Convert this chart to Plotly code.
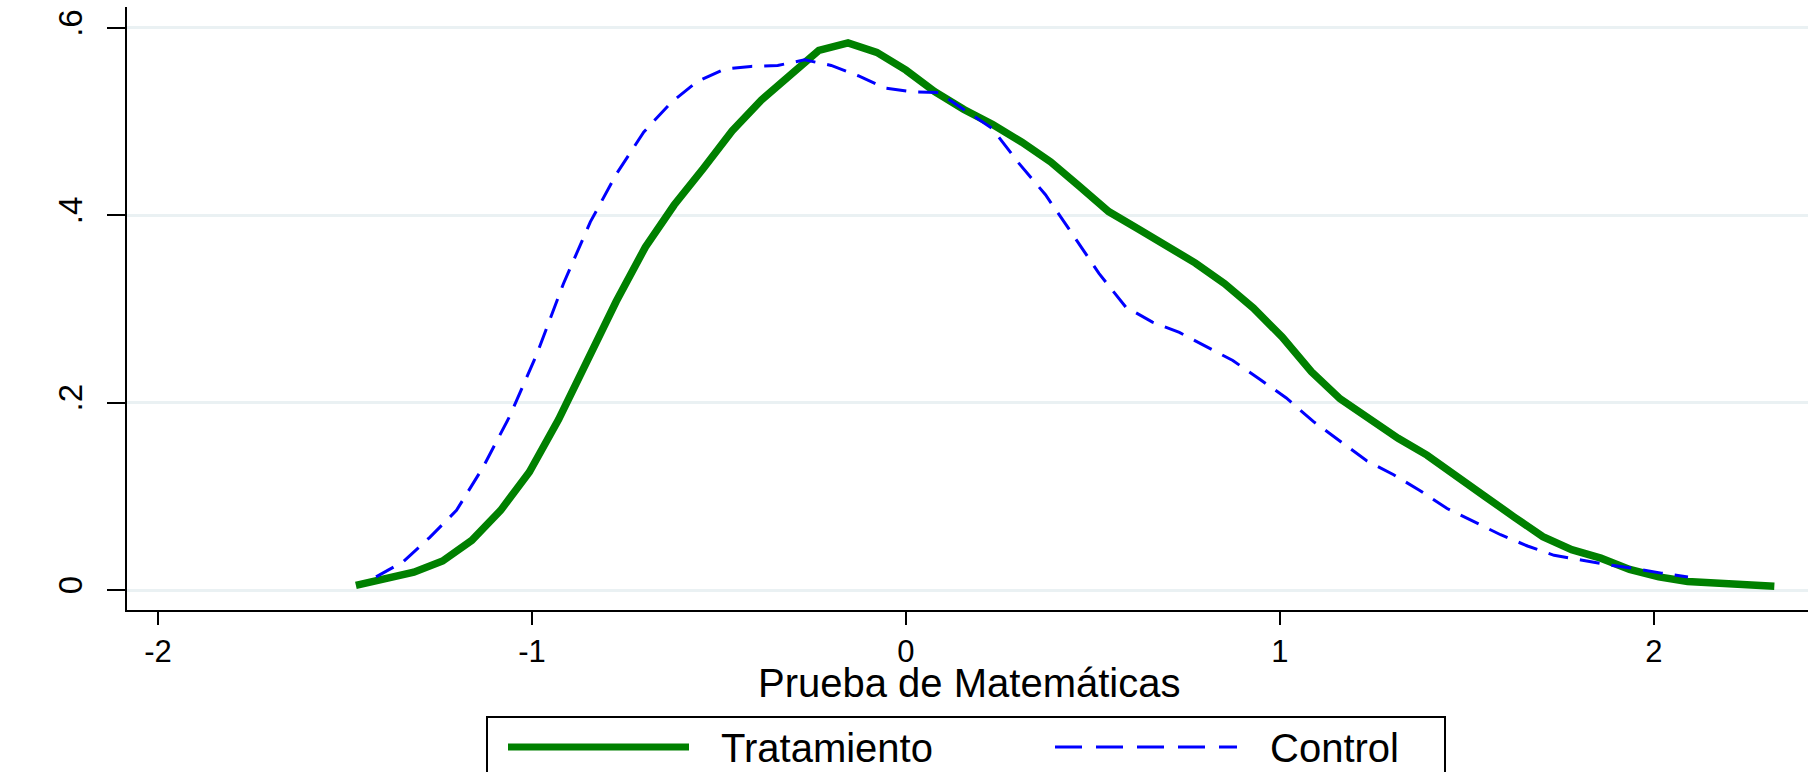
import plotly.graph_objects as go

# ---------------- data ----------------
trat_x = [-1.471, -1.394, -1.316, -1.239, -1.161, -1.084, -1.007, -0.929, -0.852, -0.775,
          -0.697, -0.620, -0.542, -0.465, -0.387, -0.310, -0.233, -0.155, -0.078, 0.000,
          0.077, 0.155, 0.232, 0.310, 0.387, 0.464, 0.542, 0.619, 0.697, 0.774,
          0.852, 0.929, 1.006, 1.084, 1.161, 1.239, 1.316, 1.393, 1.471, 1.548,
          1.626, 1.703, 1.780, 1.858, 1.935, 2.013, 2.090, 2.167, 2.245, 2.322]
trat_y = [0.005, 0.011, 0.019, 0.031, 0.053, 0.085, 0.126, 0.182, 0.244, 0.308,
          0.366, 0.411, 0.450, 0.490, 0.523, 0.549, 0.576, 0.584, 0.574, 0.555,
          0.532, 0.513, 0.497, 0.478, 0.457, 0.431, 0.404, 0.386, 0.368, 0.349,
          0.327, 0.301, 0.270, 0.233, 0.204, 0.183, 0.162, 0.144, 0.121, 0.100,
          0.078, 0.057, 0.043, 0.034, 0.022, 0.014, 0.009, 0.008, 0.007, 0.004]

ctrl_x = [-1.417, -1.345, -1.274, -1.202, -1.131, -1.059, -0.987, -0.916, -0.844, -0.773,
          -0.701, -0.629, -0.558, -0.486, -0.415, -0.343, -0.271, -0.200, -0.128, -0.057,
          0.015, 0.087, 0.158, 0.230, 0.301, 0.373, 0.445, 0.516, 0.588, 0.659,
          0.731, 0.803, 0.874, 0.946, 1.017, 1.089, 1.161, 1.232, 1.304, 1.375,
          1.447, 1.519, 1.590, 1.662, 1.733, 1.805, 1.877, 1.948, 2.020, 2.091]
ctrl_y = [0.014, 0.030, 0.056, 0.085, 0.131, 0.186, 0.252, 0.327, 0.393, 0.445,
          0.489, 0.520, 0.543, 0.556, 0.559, 0.560, 0.566, 0.560, 0.549, 0.536,
          0.532, 0.531, 0.512, 0.493, 0.456, 0.422, 0.380, 0.338, 0.302, 0.286,
          0.275, 0.260, 0.245, 0.225, 0.205, 0.180, 0.159, 0.138, 0.123, 0.106,
          0.087, 0.073, 0.059, 0.047, 0.037, 0.032, 0.027, 0.023, 0.018, 0.014]

x_tickvals = [-2, -1, 0, 1, 2]
x_ticktext = ["-2", "-1", "0", "1", "2"]
y_tickvals = [0, 0.2, 0.4, 0.6]
y_ticktext = ["0", ".2", ".4", ".6"]
series_names = ["Tratamiento", "Control"]
x_title = "Prueba de Matemáticas"

# ---------------- styling / layout ----------------
GREEN = "#008000"
BLUE = "#0000FF"
GRID = "#EAF1F3"
FONT = "Liberation Sans, Arial, Helvetica, sans-serif"

W, H = 1814, 772
L, R, T, B = 127, 1808, 7, 610   # plot area in pixels


def px2x(px):
    return (px - L) / (R - L)


def py2y(py):
    return (B - py) / (B - T)


fig = go.Figure()
fig.add_trace(go.Scatter(x=trat_x, y=trat_y, mode="lines", name=series_names[0],
                         line=dict(color=GREEN, width=7.5), showlegend=False))
fig.add_trace(go.Scatter(x=ctrl_x, y=ctrl_y, mode="lines", name=series_names[1],
                         line=dict(color=BLUE, width=3, dash="20px,12px"), showlegend=False))

fig.update_layout(
    width=W, height=H,
    margin=dict(l=L, r=W - R, t=T, b=H - B, pad=0),
    paper_bgcolor="white", plot_bgcolor="white",
    font=dict(family=FONT, color="black"),
    showlegend=False,
)

fig.update_xaxes(
    range=[-2.083, 2.412],
    tickvals=x_tickvals, ticktext=x_ticktext,
    ticks="outside", ticklen=13, tickwidth=2, tickcolor="black",
    tickfont=dict(size=31, family=FONT, color="black"),
    showline=True, linecolor="black", linewidth=2,
    showgrid=False, zeroline=False,
)
fig.update_yaxes(
    range=[-0.02135, 0.6224],
    tickvals=y_tickvals, ticktext=y_ticktext, tickangle=-90,
    ticks="outside", ticklen=18, tickwidth=2, tickcolor="black",
    tickfont=dict(size=33, family=FONT, color="black"),
    ticklabelstandoff=12,
    showline=True, linecolor="black", linewidth=2,
    showgrid=True, gridcolor=GRID, gridwidth=3, zeroline=False,
)

# axis title
fig.add_annotation(text=x_title, xref="paper", yref="paper",
                   x=px2x(969), y=py2y(683), xanchor="center", yanchor="middle",
                   showarrow=False, font=dict(size=40, family=FONT, color="black"))

# legend (drawn by hand to match the long key symbols)
fig.add_shape(type="rect", xref="paper", yref="paper",
              x0=px2x(487), x1=px2x(1445), y0=py2y(717), y1=py2y(820),
              line=dict(color="black", width=2), fillcolor="white", layer="above")
fig.add_shape(type="line", xref="paper", yref="paper",
              x0=px2x(508), x1=px2x(689), y0=py2y(747), y1=py2y(747),
              line=dict(color=GREEN, width=7), layer="above")
fig.add_shape(type="line", xref="paper", yref="paper",
              x0=px2x(1055), x1=px2x(1237), y0=py2y(747), y1=py2y(747),
              line=dict(color=BLUE, width=3, dash="27px,14px"), layer="above")
fig.add_annotation(text=series_names[0], xref="paper", yref="paper",
                   x=px2x(719), y=py2y(748), xanchor="left", yanchor="middle",
                   showarrow=False, font=dict(size=40, family=FONT, color="black"))
fig.add_annotation(text=series_names[1], xref="paper", yref="paper",
                   x=px2x(1268), y=py2y(748), xanchor="left", yanchor="middle",
                   showarrow=False, font=dict(size=40, family=FONT, color="black"))

fig.write_html("out.html", config={"displayModeBar": False},
               post_script="document.body.style.margin='0';document.body.style.overflow='hidden';")
